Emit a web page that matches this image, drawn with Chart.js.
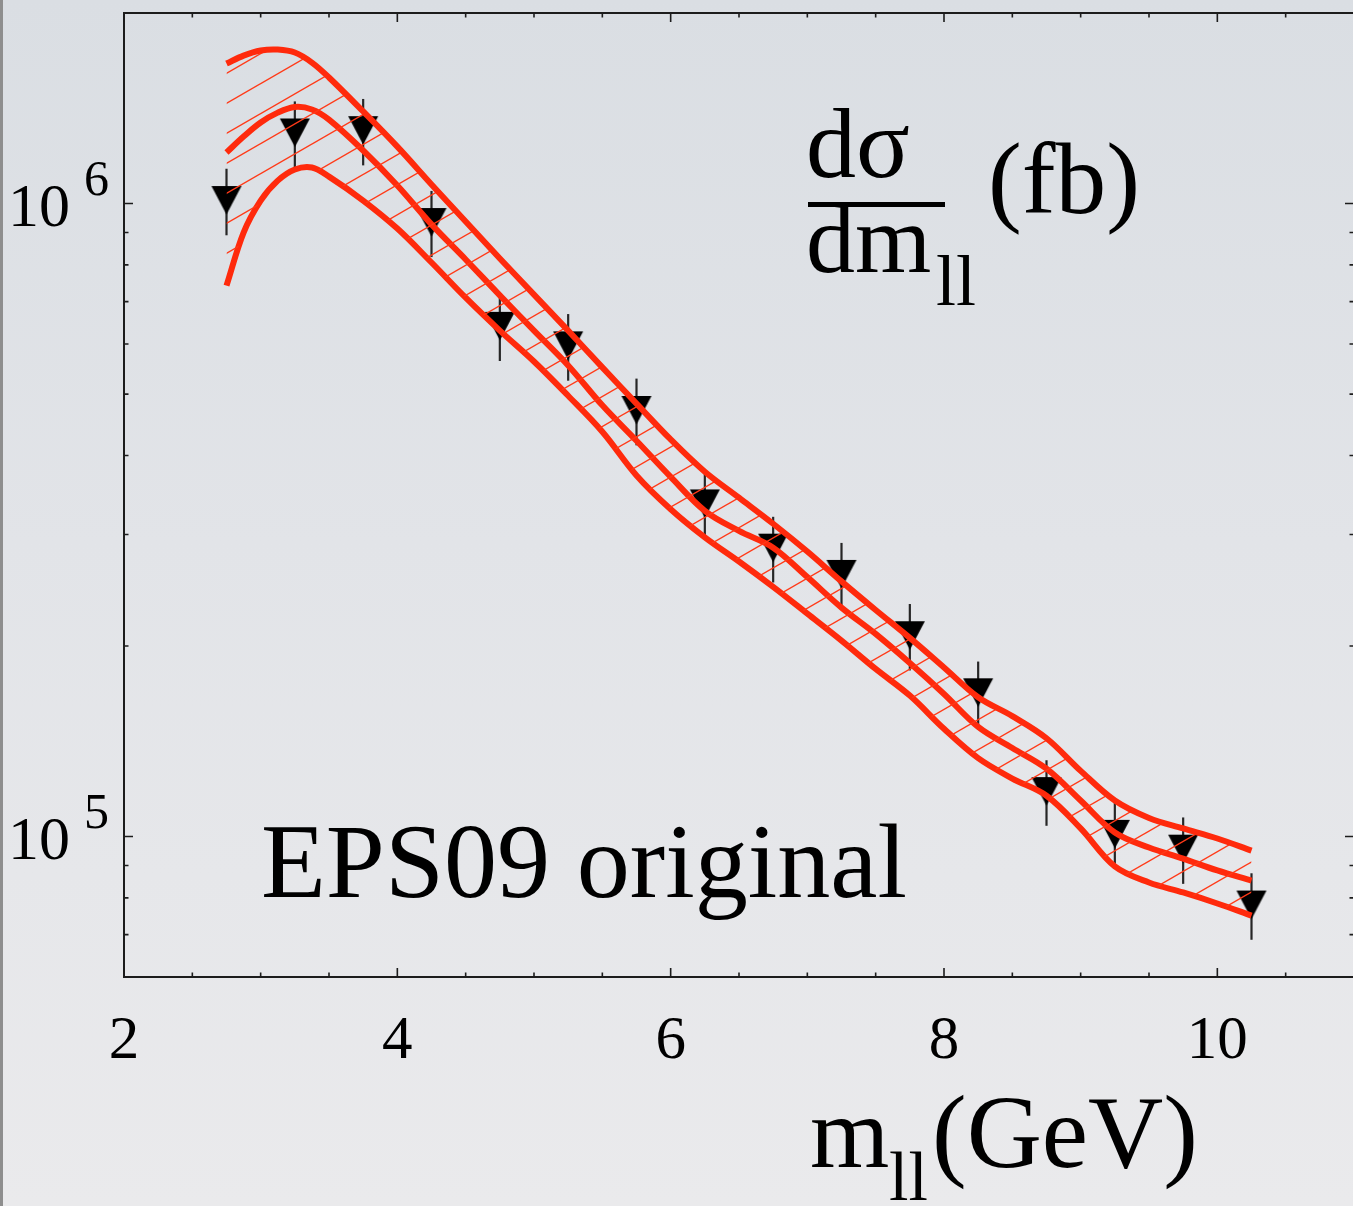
<!DOCTYPE html>
<html><head><meta charset="utf-8">
<script src="https://cdn.jsdelivr.net/npm/chart.js@4.4.1/dist/chart.umd.min.js"></script>
<style>
html,body{margin:0;padding:0;overflow:hidden;width:1353px;height:1206px;}
body{background:linear-gradient(180deg,#dadee3 0%,#e2e4e8 45%,#eaeaec 100%);}
#wrap{position:absolute;left:0;top:0;width:1360px;height:1206px;}
#edge{position:absolute;left:0;top:0;width:3px;height:1206px;background:#8e8e8e;}
</style></head><body>
<div id="wrap"><canvas id="c" width="1360" height="1206" style="width:1360px;height:1206px"></canvas></div>
<div id="edge"></div>
<script>
// ---- data ----
const massGrid   = [2.75,2.875,3.0,3.125,3.25,3.375,3.5,3.75,4.0,4.25,4.5,4.75,5.0,5.25,5.5,5.75,6.0,6.25,6.5,6.75,7.0,7.25,7.5,7.75,8.0,8.25,8.5,8.75,9.0,9.25,9.5,9.75,10.0,10.25];
const upperBand  = [1.664e6,1.713e6,1.745e6,1.751e6,1.732e6,1.670e6,1.582e6,1.398e6,1.230e6,1.072e6,9.37e5,8.19e5,7.18e5,6.30e5,5.51e5,4.83e5,4.24e5,3.77e5,3.43e5,3.12e5,2.82e5,2.53e5,2.28e5,2.06e5,1.85e5,1.66e5,1.55e5,1.43e5,1.27e5,1.14e5,1.07e5,1.03e5,9.93e4,9.50e4];
const centralCurve = [1.204e6,1.276e6,1.343e6,1.392e6,1.421e6,1.408e6,1.357e6,1.213e6,1.068e6,9.27e5,8.16e5,7.16e5,6.30e5,5.55e5,4.80e5,4.22e5,3.70e5,3.27e5,3.04e5,2.86e5,2.57e5,2.30e5,2.09e5,1.88e5,1.68e5,1.49e5,1.38e5,1.28e5,1.14e5,1.015e5,9.61e4,9.23e4,8.84e4,8.52e4];
const lowerBand  = [7.42e5,9.00e5,1.011e6,1.087e6,1.132e6,1.140e6,1.103e6,1.011e6,9.13e5,8.07e5,7.10e5,6.30e5,5.63e5,4.97e5,4.36e5,3.72e5,3.29e5,2.97e5,2.72e5,2.48e5,2.25e5,2.04e5,1.84e5,1.67e5,1.48e5,1.33e5,1.235e5,1.16e5,1.03e5,8.97e4,8.46e4,8.16e4,7.84e4,7.50e4];
const pointMass  = [2.75,3.25,3.75,4.25,4.75,5.25,5.75,6.25,6.75,7.25,7.75,8.25,8.75,9.25,9.75,10.25];
const pointValue = [1.013e6,1.295e6,1.306e6,9.35e5,6.41e5,5.97e5,4.72e5,3.36e5,2.86e5,2.60e5,2.08e5,1.69e5,1.18e5,1.01e5,9.57e4,7.81e4];
const pointError = [1.22e5,1.55e5,1.57e5,1.12e5,7.7e4,7.2e4,5.7e4,4.0e4,3.4e4,3.1e4,2.5e4,2.0e4,1.4e4,1.2e4,1.15e4,9.4e3];
const xMajorTicks = [2,4,6,8,10];
const xMinorTicks = [2.5,3,3.5,4.5,5,5.5,6.5,7,7.5,8.5,9,9.5,10.5];
const xTickLabels = ["2","4","6","8","10"];
const yMajorTicks = [1e5,1e6];
const yMinorTicks = [6e4,7e4,8e4,9e4,2e5,3e5,4e5,5e5,6e5,7e5,8e5,9e5];
const yTickBase = "10";
const yTickExp = ["5","6"];
const xRange = [2,11];
const yRange = [6e4,2e6];

// ---- styles ----
const RED = '#ff2a0c';
const SERIF = '"Liberation Serif","DejaVu Serif",serif';

function makeHatch(ctx){
  const w=52,h=30;
  const c=document.createElement('canvas'); c.width=w; c.height=h;
  const g=c.getContext('2d');
  g.strokeStyle='#ff3a18'; g.lineWidth=1.4;
  for(const k of [-1,0,1,2]){
    g.beginPath();
    g.moveTo(-w, 2*h + k*h);
    g.lineTo(2*w, -h + k*h);
    g.stroke();
  }
  const p=ctx.createPattern(c,'repeat');
  try{ p.setTransform(new DOMMatrix([1,0,0,1,0,-6])); }catch(e){}
  return p;
}
function makeTriangle(){
  const c=document.createElement('canvas'); c.width=32; c.height=30;
  const g=c.getContext('2d');
  g.fillStyle='#000';
  g.beginPath(); g.moveTo(1,1); g.lineTo(31,1); g.lineTo(16,29.5); g.closePath(); g.fill();
  return c;
}

const canvas=document.getElementById('c');
const ctx0=canvas.getContext('2d');
const hatch=makeHatch(ctx0);
const tri=makeTriangle();

const xy=(xs,ys)=>xs.map((x,i)=>({x:x,y:ys[i]}));

function fitText(ctx, text, x, y, width){
  ctx.font = '100px '+SERIF;
  const w = ctx.measureText(text).width;
  const size = 100*width/w;
  ctx.font = size.toFixed(2)+'px '+SERIF;
  ctx.fillText(text, x, y);
}

const decor = {
  id:'decor',
  beforeDatasetDraw(chart,args){
    if(args.index!==3) return;
    const {ctx,scales:{x,y}}=chart;
    ctx.save();
    ctx.strokeStyle='#262626'; ctx.lineWidth=2.2;
    pointMass.forEach((m,i)=>{
      const px=x.getPixelForValue(m);
      ctx.beginPath();
      ctx.moveTo(px, y.getPixelForValue(pointValue[i]+pointError[i]));
      ctx.lineTo(px, y.getPixelForValue(pointValue[i]-pointError[i]));
      ctx.stroke();
    });
    ctx.restore();
  },
  afterDraw(chart){
    const {ctx,chartArea:a,scales:{x,y}}=chart;
    ctx.save();
    ctx.strokeStyle='#1c1c1c'; ctx.lineWidth=2;
    ctx.strokeRect(a.left,a.top,a.right-a.left,a.bottom-a.top);
    ctx.lineWidth=1.6;
    const tick=(vals,len,isX)=>{
      vals.forEach(v=>{
        ctx.beginPath();
        if(isX){
          const p=x.getPixelForValue(v);
          ctx.moveTo(p,a.bottom); ctx.lineTo(p,a.bottom-len);
          ctx.moveTo(p,a.top); ctx.lineTo(p,a.top+len);
        }else{
          const p=y.getPixelForValue(v);
          ctx.moveTo(a.left,p); ctx.lineTo(a.left+len,p);
          ctx.moveTo(a.right,p); ctx.lineTo(a.right-len,p);
        }
        ctx.stroke();
      });
    };
    tick(xMajorTicks,9,true); tick(xMinorTicks,4.5,true);
    tick(yMajorTicks,9,false); tick(yMinorTicks,4.5,false);
    ctx.fillStyle='#000';
    ctx.textBaseline='alphabetic';
    ctx.font='61px '+SERIF; ctx.textAlign='center';
    xMajorTicks.forEach((v,i)=>ctx.fillText(xTickLabels[i], x.getPixelForValue(v), a.bottom+81));
    ctx.textAlign='left';
    yMajorTicks.forEach((v,i)=>{
      const p=y.getPixelForValue(v);
      ctx.font='62px '+SERIF; ctx.fillText(yTickBase, a.left-116, p+22);
      ctx.font='50px '+SERIF; ctx.fillText(yTickExp[i], a.left-40, p-9);
    });
    fitText(ctx,'EPS09 original',261,897,646);
    ctx.font='100px '+SERIF; ctx.fillText('d\u03C3',806,177);
    ctx.fillRect(808,202,137,5);
    ctx.font='98px '+SERIF; ctx.fillText('dm',806,272);
    ctx.font='72px '+SERIF; ctx.fillText('ll',936,305);
    fitText(ctx,'(fb)',988,213,152);
    ctx.font='102px '+SERIF; ctx.fillText('m',810,1167);
    ctx.font='70px '+SERIF; ctx.fillText('ll',889,1200);
    fitText(ctx,'(GeV)',932,1167,266);
    ctx.restore();
  }
};

new Chart(canvas,{
  type:'line',
  data:{datasets:[
    {data:xy(massGrid,upperBand), borderColor:RED, borderWidth:6, pointRadius:0, fill:'+2', backgroundColor:hatch, tension:0.35},
    {data:xy(massGrid,centralCurve), borderColor:RED, borderWidth:6, pointRadius:0, fill:false, tension:0.35},
    {data:xy(massGrid,lowerBand), borderColor:RED, borderWidth:6, pointRadius:0, fill:false, tension:0.35},
    {data:xy(pointMass,pointValue), showLine:false, pointStyle:tri, pointRadius:15, fill:false}
  ]},
  options:{
    responsive:false, animation:false, devicePixelRatio:1,
    layout:{autoPadding:false, padding:{left:124,top:13,right:6,bottom:229}},
    plugins:{legend:{display:false},tooltip:{enabled:false},filler:{propagate:false}},
    scales:{
      x:{type:'linear',min:xRange[0],max:xRange[1],display:false},
      y:{type:'logarithmic',min:yRange[0],max:yRange[1],display:false}
    }
  },
  plugins:[decor]
});
</script>
</body></html>
